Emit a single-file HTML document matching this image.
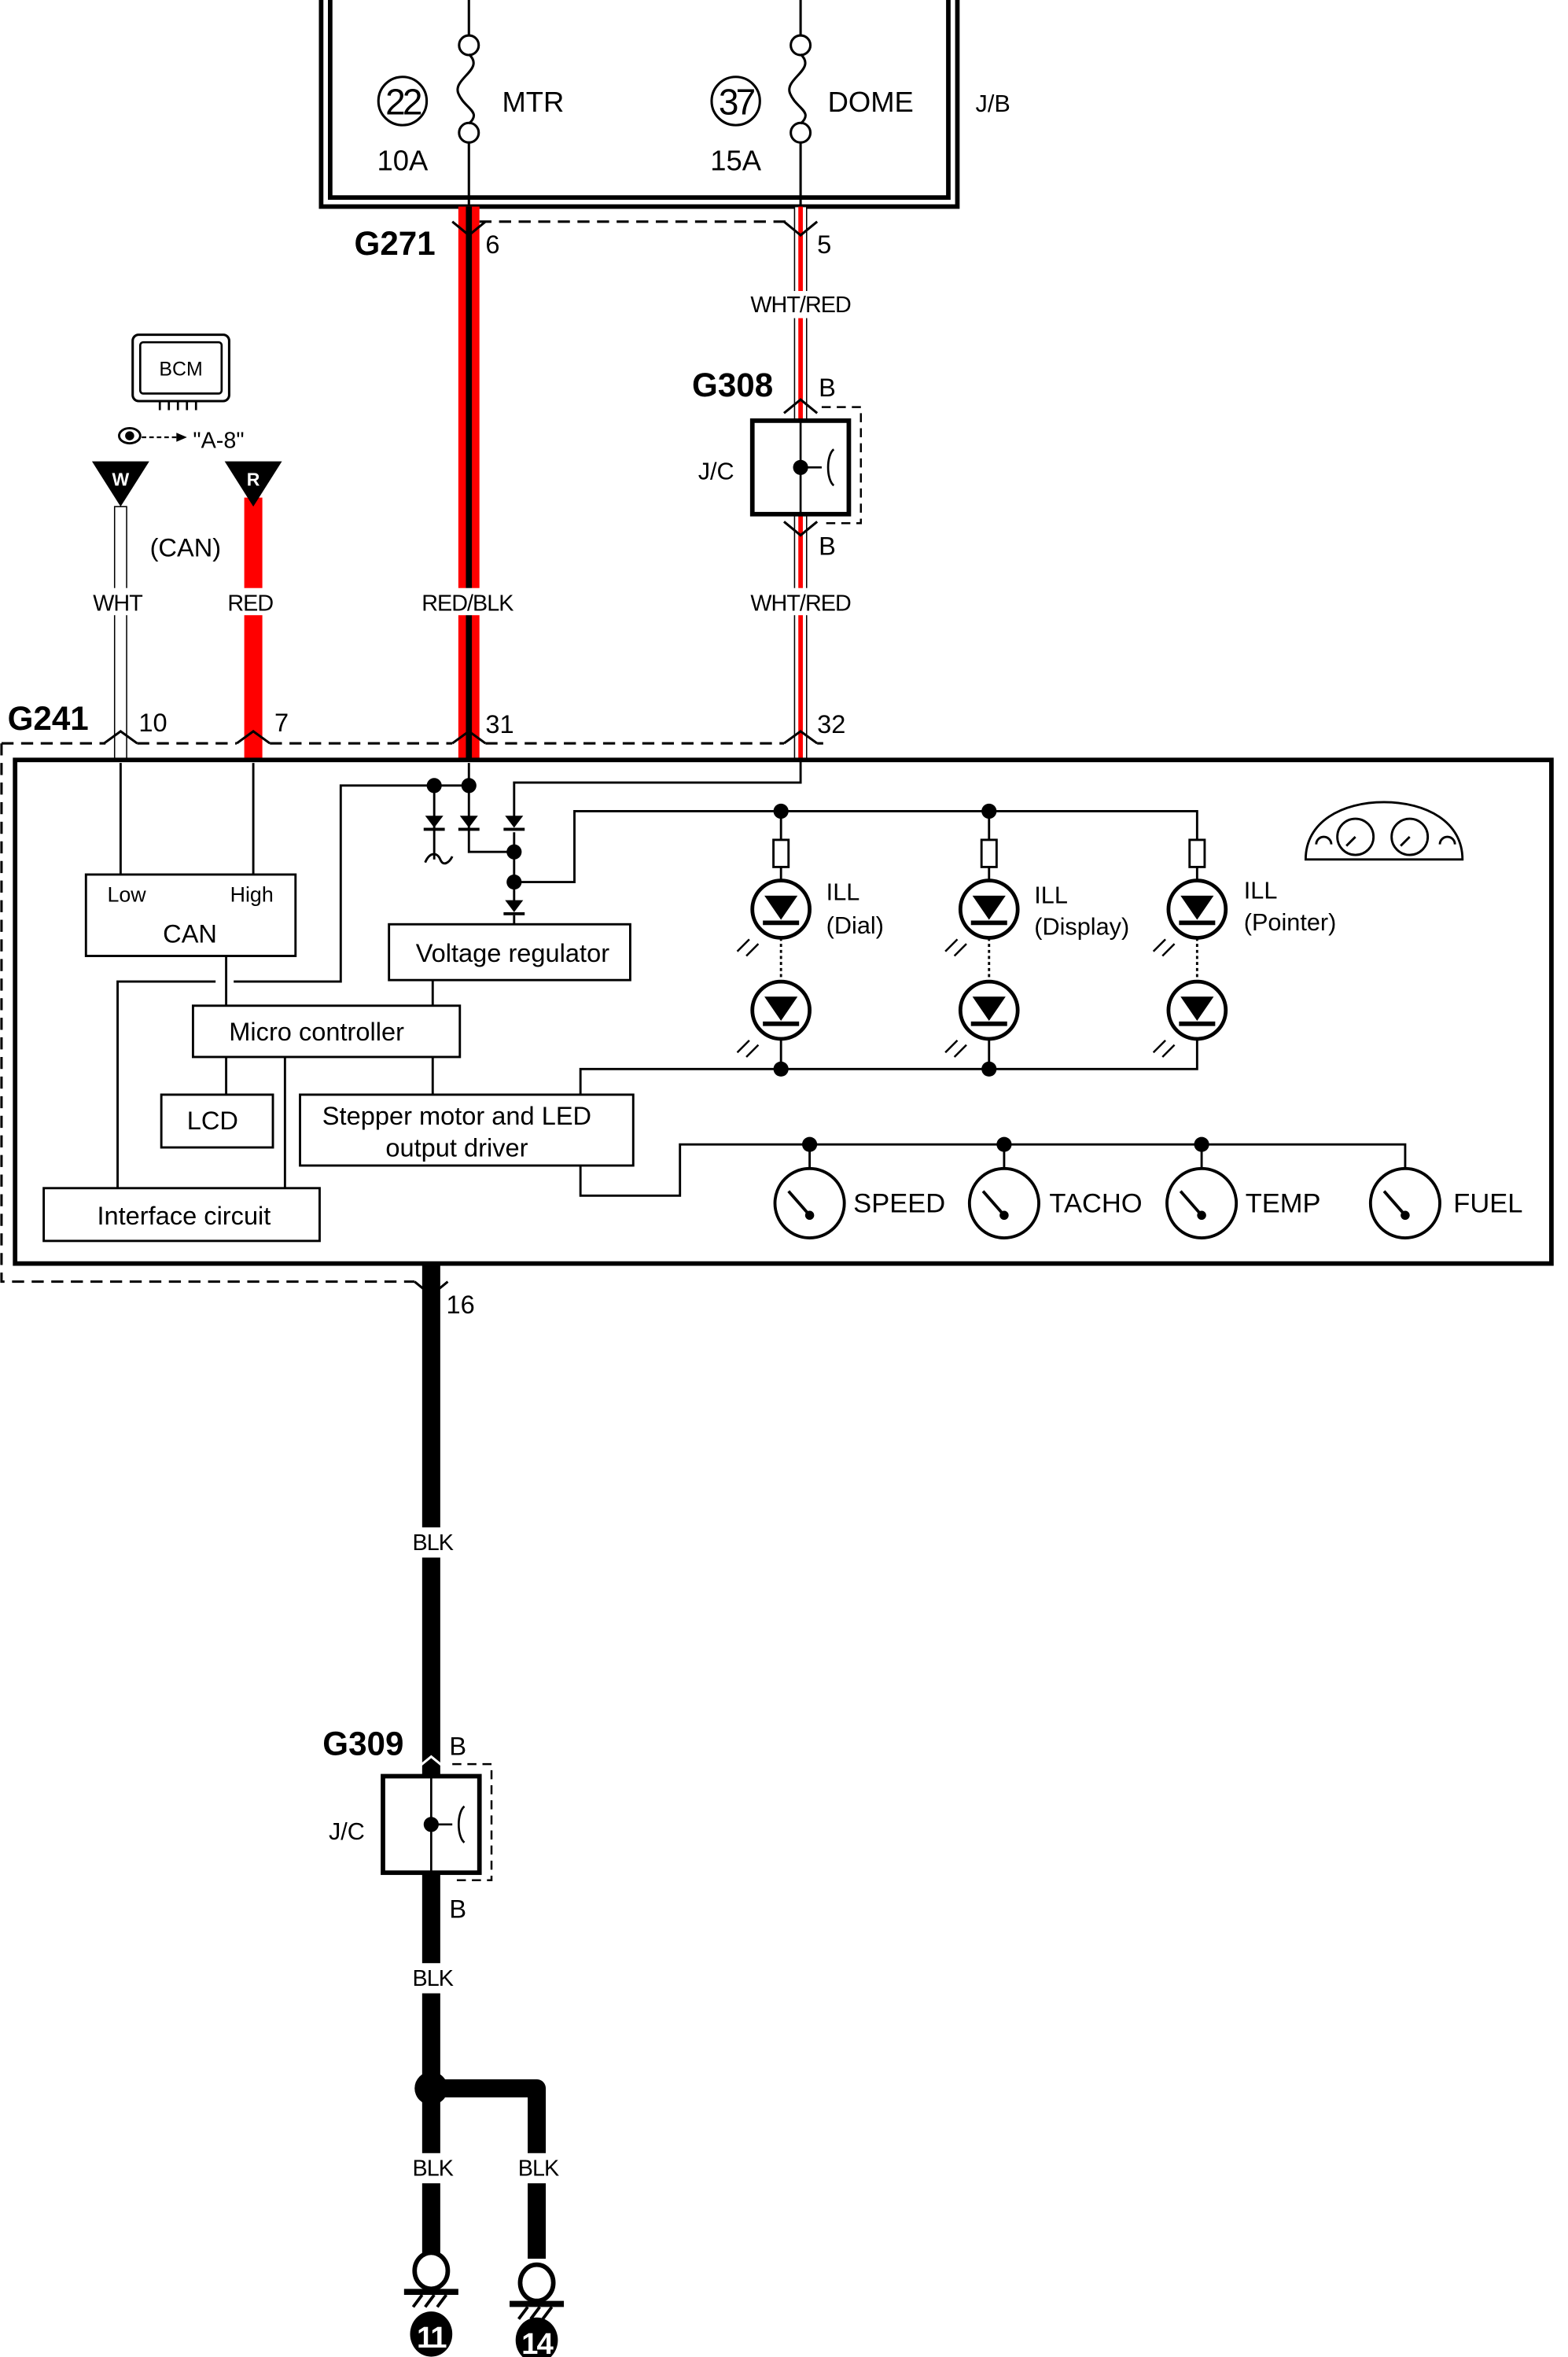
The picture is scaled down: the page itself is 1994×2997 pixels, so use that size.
<!DOCTYPE html>
<html><head><meta charset="utf-8"><style>
html,body{margin:0;padding:0;background:#fff}
svg{display:block}
text{font-family:"Liberation Sans",Arial,sans-serif;fill:#000}
</style></head><body>
<svg width="1994" height="2997" viewBox="0 0 1040 1563.2" preserveAspectRatio="none" xmlns="http://www.w3.org/2000/svg">
<rect width="1040" height="1564" fill="#fff"/>
<!-- J/B -->
<rect x="213" y="-6" width="422" height="143" fill="none" stroke="#000" stroke-width="3"/>
<rect x="219" y="-6" width="410" height="137" fill="none" stroke="#000" stroke-width="3"/>
<g fill="none" stroke="#000" stroke-width="1.6">
<line x1="311" y1="-5" x2="311" y2="24"/><circle cx="311" cy="30" r="6.5"/><path d="M311 36 C322 46,300 52,304 62 C308 72,320 74,311 82"/><circle cx="311" cy="88" r="6.5"/>
<line x1="531" y1="-5" x2="531" y2="24"/><circle cx="531" cy="30" r="6.5"/><path d="M531 36 C542 46,520 52,524 62 C528 72,540 74,531 82"/><circle cx="531" cy="88" r="6.5"/>
<circle cx="267" cy="67" r="16"/><circle cx="488" cy="67" r="16"/>
</g>
<text x="267" y="76" font-size="24" text-anchor="middle" letter-spacing="-2">22</text>
<text x="488" y="76" font-size="24" text-anchor="middle" letter-spacing="-2">37</text>
<text x="267" y="113" font-size="19" text-anchor="middle">10A</text>
<text x="488" y="113" font-size="19" text-anchor="middle">15A</text>
<text x="333" y="74" font-size="19">MTR</text>
<text x="549" y="74" font-size="19">DOME</text>
<text x="647" y="74" font-size="16">J/B</text>
<!-- wires -->
<line x1="311" y1="95" x2="311" y2="137" stroke="#000" stroke-width="1.6"/>
<line x1="531" y1="95" x2="531" y2="137" stroke="#000" stroke-width="1.6"/>
<rect x="304" y="137" width="14" height="367" fill="#f00"/>
<rect x="309" y="137" width="4" height="367" fill="#000"/>
<rect x="527" y="137" width="8" height="367" fill="#fff" stroke="#000" stroke-width="0.8"/>
<rect x="529.5" y="137" width="3" height="367" fill="#f00"/>
<rect x="162" y="330" width="12" height="174" fill="#f00"/>
<rect x="76" y="336" width="8" height="170" fill="#fff" stroke="#000" stroke-width="0.8"/>
<!-- G271 dashed -->
<path d="M318 147 H524" stroke="#000" stroke-width="1.6" stroke-dasharray="8 5" fill="none"/>
<path d="M300 147 L311 156 L322 147 M520 147 L531 156 L542 147" stroke="#000" stroke-width="1.6" fill="none"/>
<text x="235" y="169" font-size="22" font-weight="bold">G271</text>
<text x="322" y="168" font-size="17">6</text>
<text x="542" y="168" font-size="17">5</text>
<rect x="496" y="193" width="70" height="18" fill="#fff"/>
<text x="531" y="207" font-size="15" text-anchor="middle" letter-spacing="-0.5">WHT/RED</text>
<!-- G308 -->
<text x="459" y="263" font-size="22" font-weight="bold">G308</text>
<text x="543" y="263" font-size="17">B</text>
<path d="M520 274 L531 265 L542 274" stroke="#000" stroke-width="1.6" fill="none"/>
<rect x="499" y="279" width="64" height="62" fill="#fff" stroke="#000" stroke-width="3"/>
<line x1="531" y1="279" x2="531" y2="341" stroke="#000" stroke-width="1.4"/>
<path d="M545 270 H571 V347 H545" stroke="#000" stroke-width="1.3" stroke-dasharray="6 4" fill="none"/>
<circle cx="531" cy="310" r="5" fill="#000"/>
<path d="M531 310 H545 M553 298 C548 302,548 318,553 322" stroke="#000" stroke-width="1.4" fill="none"/>
<text x="463" y="318" font-size="16">J/C</text>
<path d="M520 346 L531 355 L542 346" stroke="#000" stroke-width="1.6" fill="none"/>
<text x="543" y="368" font-size="17">B</text>
<!-- BCM -->
<rect x="88" y="222" width="64" height="44" rx="4" fill="#fff" stroke="#000" stroke-width="1.6"/>
<rect x="93" y="227" width="54" height="34" rx="2" fill="none" stroke="#000" stroke-width="1.4"/>
<text x="120" y="249" font-size="13" text-anchor="middle">BCM</text>
<path d="M106 266 v6 M112 266 v6 M118 266 v6 M124 266 v6 M130 266 v6" stroke="#000" stroke-width="1.4"/>
<ellipse cx="86" cy="289" rx="7" ry="5" fill="none" stroke="#000" stroke-width="1.5"/>
<circle cx="86" cy="289" r="3" fill="#000"/>
<path d="M94 290 H118" stroke="#000" stroke-width="1.2" stroke-dasharray="3 2"/>
<path d="M117 287 L124 290 L117 293Z" fill="#000"/>
<text x="128" y="297" font-size="15">"A-8"</text>
<path d="M61 306 H99 L80 336Z" fill="#000"/>
<path d="M149 306 H187 L168 336Z" fill="#000"/>
<text x="80" y="322" font-size="12" font-weight="bold" fill="#fff" text-anchor="middle" style="fill:#fff">W</text>
<text x="168" y="322" font-size="12" font-weight="bold" text-anchor="middle" style="fill:#fff">R</text>
<text x="123" y="369" font-size="17" text-anchor="middle">(CAN)</text>
<rect x="60" y="390" width="38" height="18" fill="#fff"/>
<text x="78" y="405" font-size="15" text-anchor="middle" letter-spacing="-0.5">WHT</text>
<rect x="150" y="390" width="34" height="18" fill="#fff"/>
<text x="166" y="405" font-size="15" text-anchor="middle" letter-spacing="-0.5">RED</text>
<rect x="280" y="390" width="62" height="18" fill="#fff"/>
<text x="310" y="405" font-size="15" text-anchor="middle" letter-spacing="-0.5">RED/BLK</text>
<rect x="496" y="390" width="70" height="18" fill="#fff"/>
<text x="531" y="405" font-size="15" text-anchor="middle" letter-spacing="-0.5">WHT/RED</text>
<!-- G241 dashed -->
<path d="M1 493 H70 M91 493 H157 M179 493 H300 M322 493 H520 M542 493 H546 M1 493 V850 H275" stroke="#000" stroke-width="1.6" stroke-dasharray="8 5" fill="none"/>
<path d="M69 493 L80 485 L91 493 M157 493 L168 485 L179 493 M300 493 L311 485 L322 493 M520 493 L531 485 L542 493" stroke="#000" stroke-width="1.6" fill="none"/>
<text x="5" y="484" font-size="22" font-weight="bold">G241</text>
<text x="92" y="485" font-size="17">10</text>
<text x="182" y="485" font-size="17">7</text>
<text x="322" y="486" font-size="17">31</text>
<text x="542" y="486" font-size="17">32</text>
<!-- main box -->
<rect x="10" y="504" width="1019" height="334" fill="#fff" stroke="#000" stroke-width="3"/>
<g stroke="#000" stroke-width="1.5" fill="none">
<rect x="57" y="580" width="139" height="54"/>
<rect x="258" y="613" width="160" height="37"/>
<rect x="128" y="667" width="177" height="34"/>
<rect x="107" y="726" width="74" height="35"/>
<rect x="199" y="726" width="221" height="47"/>
<rect x="29" y="788" width="183" height="35"/>
<path d="M80 506 V580 M168 506 V580"/>
<path d="M311 506 V521 H226 V651 H155 M143 651 H78 V788"/>
<path d="M150 634 V667 M150 701 V726 M189 701 V788 M287 650 V667 M287 701 V726"/>
<path d="M531 504 V519 H341 V545"/>
<path d="M288 521 V570 M282 572 C285 565,290 565,292 570 C294 575,298 572,300 568"/>
<path d="M311 521 V565 H341 M341 552 V600 M341 607 V613"/>
<path d="M341 585 H381 V538 H794 V557 M518 538 V557 M656 538 V557"/>
<rect x="513" y="557" width="10" height="18"/><rect x="651" y="557" width="10" height="18"/><rect x="789" y="557" width="10" height="18"/>
<path d="M518 575 V585 M656 575 V585 M794 575 V585"/>
<path d="M385 726 V709 H794 V690 M518 709 V690 M656 709 V690"/>
<path d="M385 773 V793 H451 V759 H932 V775 M537 759 V775 M666 759 V775 M797 759 V775"/>
</g>
<!-- diodes -->
<g fill="#000">
<path d="M282 541 H294 L288 549Z"/><rect x="281" y="549" width="14" height="2"/>
<path d="M305 541 H317 L311 549Z"/><rect x="304" y="549" width="14" height="2"/>
<path d="M335 541 H347 L341 549Z"/><rect x="334" y="549" width="14" height="2"/>
<path d="M335 597 H347 L341 605Z"/><rect x="334" y="605" width="14" height="2"/>
<circle cx="288" cy="521" r="5"/><circle cx="311" cy="521" r="5"/>
<circle cx="341" cy="565" r="5"/><circle cx="341" cy="585" r="5"/>
<circle cx="518" cy="538" r="5"/><circle cx="656" cy="538" r="5"/>
<circle cx="518" cy="709" r="5"/><circle cx="656" cy="709" r="5"/>
<circle cx="537" cy="759" r="5"/><circle cx="666" cy="759" r="5"/><circle cx="797" cy="759" r="5"/>
</g>
<!-- LEDs -->
<g id="led">
<g stroke="#000" stroke-width="2.5" fill="none"><circle cx="518" cy="603" r="19"/><circle cx="518" cy="670" r="19"/></g>
<path d="M507 594 H529 L518 610Z M507 661 H529 L518 677Z" fill="#000"/>
<path d="M506 612 H530 M506 679 H530" stroke="#000" stroke-width="3"/>
<path d="M518 622 V651" stroke="#000" stroke-width="1.5" stroke-dasharray="2 2"/>
<path d="M489 631 l8 -8 M495 634 l8 -8 M489 698 l8 -8 M495 701 l8 -8" stroke="#000" stroke-width="1.3"/>
</g>
<use href="#led" x="138"/><use href="#led" x="276"/>
<text x="548" y="597" font-size="16">ILL</text><text x="548" y="619" font-size="16">(Dial)</text>
<text x="686" y="599" font-size="16">ILL</text><text x="686" y="620" font-size="16">(Display)</text>
<text x="825" y="596" font-size="16">ILL</text><text x="825" y="617" font-size="16">(Pointer)</text>
<!-- gauges -->
<g stroke="#000" stroke-width="2" fill="#fff">
<circle cx="537" cy="798" r="23"/><circle cx="666" cy="798" r="23"/><circle cx="797" cy="798" r="23"/><circle cx="932" cy="798" r="23"/>
</g>
<g stroke="#000" stroke-width="2">
<path d="M537 806 L523 790 M666 806 L652 790 M797 806 L783 790 M932 806 L918 790"/>
</g>
<g fill="#000"><circle cx="537" cy="806" r="3"/><circle cx="666" cy="806" r="3"/><circle cx="797" cy="806" r="3"/><circle cx="932" cy="806" r="3"/></g>
<text x="566" y="804" font-size="18">SPEED</text>
<text x="696" y="804" font-size="18">TACHO</text>
<text x="826" y="804" font-size="18">TEMP</text>
<text x="964" y="804" font-size="18">FUEL</text>
<!-- cluster icon -->
<g stroke="#000" stroke-width="1.5" fill="none">
<path d="M866 570 C866 545,890 532,918 532 C946 532,970 545,970 570 Z"/>
<circle cx="899" cy="555" r="12"/><circle cx="935" cy="555" r="12"/>
<path d="M899 555 l-6 6 M935 555 l-6 6 M873 560 a5 5 0 0 1 10 0 M955 560 a5 5 0 0 1 10 0"/>
</g>
<!-- BLK wire -->
<rect x="280" y="838" width="12" height="550" fill="#000"/>
<path d="M275 850 L286 859 L297 850" stroke="#000" stroke-width="1.6" fill="none"/>
<text x="296" y="871" font-size="17">16</text>
<rect x="270" y="1013" width="34" height="20" fill="#fff"/>
<text x="287" y="1028" font-size="15" text-anchor="middle" letter-spacing="-0.5">BLK</text>
<!-- G309 -->
<text x="214" y="1164" font-size="22" font-weight="bold">G309</text>
<text x="298" y="1164" font-size="17">B</text>
<path d="M275 1174 L286 1165 L297 1174" stroke="#fff" stroke-width="1.6" fill="none"/>
<rect x="254" y="1178" width="64" height="64" fill="#fff" stroke="#000" stroke-width="3"/>
<line x1="286" y1="1178" x2="286" y2="1242" stroke="#000" stroke-width="1.4"/>
<path d="M300 1170 H326 V1247 H300" stroke="#000" stroke-width="1.3" stroke-dasharray="6 4" fill="none"/>
<circle cx="286" cy="1210" r="5" fill="#000"/>
<path d="M286 1210 H300 M308 1198 C303 1202,303 1218,308 1222" stroke="#000" stroke-width="1.4" fill="none"/>
<text x="218" y="1220" font-size="16">J/C</text>
<text x="298" y="1272" font-size="17">B</text>
<rect x="270" y="1302" width="34" height="20" fill="#fff"/>
<text x="287" y="1317" font-size="15" text-anchor="middle" letter-spacing="-0.5">BLK</text>
<!-- branch -->
<path d="M286 1385 H356 V1498" stroke="#000" stroke-width="12" fill="none" stroke-linejoin="round"/>
<rect x="280" y="1385" width="12" height="113" fill="#000"/>
<circle cx="286" cy="1385" r="11" fill="#000"/>
<rect x="270" y="1428" width="34" height="20" fill="#fff"/>
<text x="287" y="1443" font-size="15" text-anchor="middle" letter-spacing="-0.5">BLK</text>
<rect x="340" y="1428" width="34" height="20" fill="#fff"/>
<text x="357" y="1443" font-size="15" text-anchor="middle" letter-spacing="-0.5">BLK</text>
<!-- grounds -->
<g stroke="#000" stroke-width="3" fill="#fff">
<ellipse cx="286" cy="1506" rx="11" ry="12"/><ellipse cx="356" cy="1514" rx="11" ry="12"/>
</g>
<g stroke="#000">
<path d="M268 1520 H304 M338 1528 H374" stroke-width="4"/>
<path d="M274 1530 l6 -8 M282 1530 l6 -8 M290 1530 l6 -8 M344 1538 l6 -8 M352 1538 l6 -8 M360 1538 l6 -8" stroke-width="2"/>
</g>
<ellipse cx="286" cy="1548" rx="14" ry="15" fill="#000"/>
<ellipse cx="356" cy="1552" rx="14" ry="15" fill="#000"/>
<text x="286" y="1557" font-size="20" font-weight="bold" text-anchor="middle" style="fill:#fff" letter-spacing="-1">11</text>
<text x="356" y="1561" font-size="20" font-weight="bold" text-anchor="middle" style="fill:#fff" letter-spacing="-1">14</text>
<!-- box labels -->
<text x="84" y="598" font-size="14" text-anchor="middle">Low</text>
<text x="167" y="598" font-size="14" text-anchor="middle">High</text>
<text x="126" y="625" font-size="17" text-anchor="middle">CAN</text>
<text x="340" y="638" font-size="17" text-anchor="middle">Voltage regulator</text>
<text x="210" y="690" font-size="17" text-anchor="middle">Micro controller</text>
<text x="141" y="749" font-size="17" text-anchor="middle">LCD</text>
<text x="303" y="746" font-size="17" text-anchor="middle">Stepper motor and LED</text>
<text x="303" y="767" font-size="17" text-anchor="middle">output driver</text>
<text x="122" y="812" font-size="17" text-anchor="middle">Interface circuit</text>
</svg>
</body></html>
